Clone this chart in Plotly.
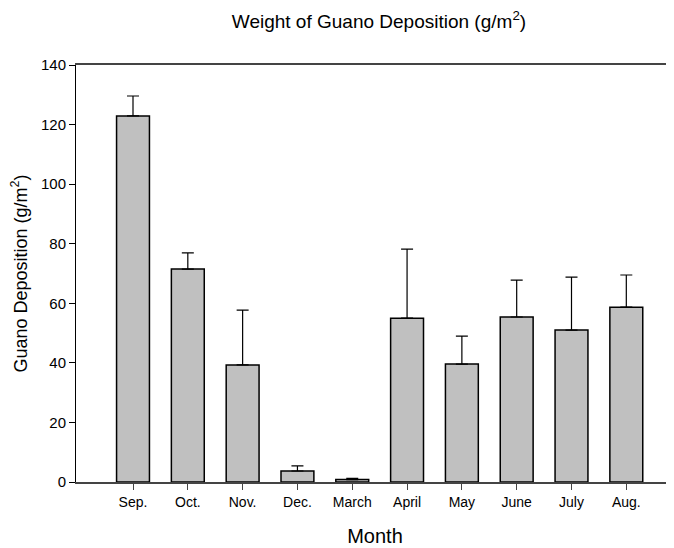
import plotly.graph_objects as go

months = ["Sep.", "Oct.", "Nov.", "Dec.", "March", "April", "May", "June", "July", "Aug."]
deposition = [122.9, 71.5, 39.3, 3.7, 0.8, 55.0, 39.6, 55.4, 51.0, 58.7]
error_upper = [6.7, 5.4, 18.4, 1.7, 0.4, 23.2, 9.4, 12.4, 17.8, 10.8]
y_ticks = [0, 20, 40, 60, 80, 100, 120, 140]

x_idx = list(range(len(months)))

fig = go.Figure()
fig.add_trace(go.Bar(
    x=x_idx, y=deposition, width=0.6,
    marker=dict(color="#c0c0c0", line=dict(color="black", width=1.5)),
    error_y=dict(type="data", symmetric=False, array=error_upper,
                 arrayminus=[0] * len(months), color="black",
                 thickness=1.2, width=6),
    showlegend=False,
))

fig.update_layout(
    width=666, height=540,
    margin=dict(l=68, r=0, t=57, b=66),
    paper_bgcolor="white", plot_bgcolor="white",
    font=dict(family="Liberation Sans, Arial, sans-serif", color="black"),
    title=dict(text="Weight of Guano Deposition (g/m<sup>2</sup>)",
               x=0.557, xanchor="center", y=0.975, yanchor="middle",
               font=dict(size=19)),
    xaxis=dict(
        range=[-1.04, 9.87], tickmode="array", tickvals=x_idx, ticktext=months,
        showgrid=False, zeroline=False,
        showline=True, linecolor="#444", linewidth=2, mirror=True,
        ticks="outside", ticklen=6, tickcolor="#444", tickwidth=1,
        tickfont=dict(size=14),
        title=dict(text="Month", font=dict(size=20), standoff=20),
    ),
    yaxis=dict(
        range=[0, 140], tickmode="array", tickvals=y_ticks,
        showgrid=False, zeroline=False,
        showline=True, linecolor="black", linewidth=1,
        ticks="outside", ticklen=6, tickcolor="black",
        tickfont=dict(size=15),
        title=dict(text="Guano Deposition (g/m<sup>2</sup>)", font=dict(size=18), standoff=9),
    ),
)

fig.write_html("out.html")
